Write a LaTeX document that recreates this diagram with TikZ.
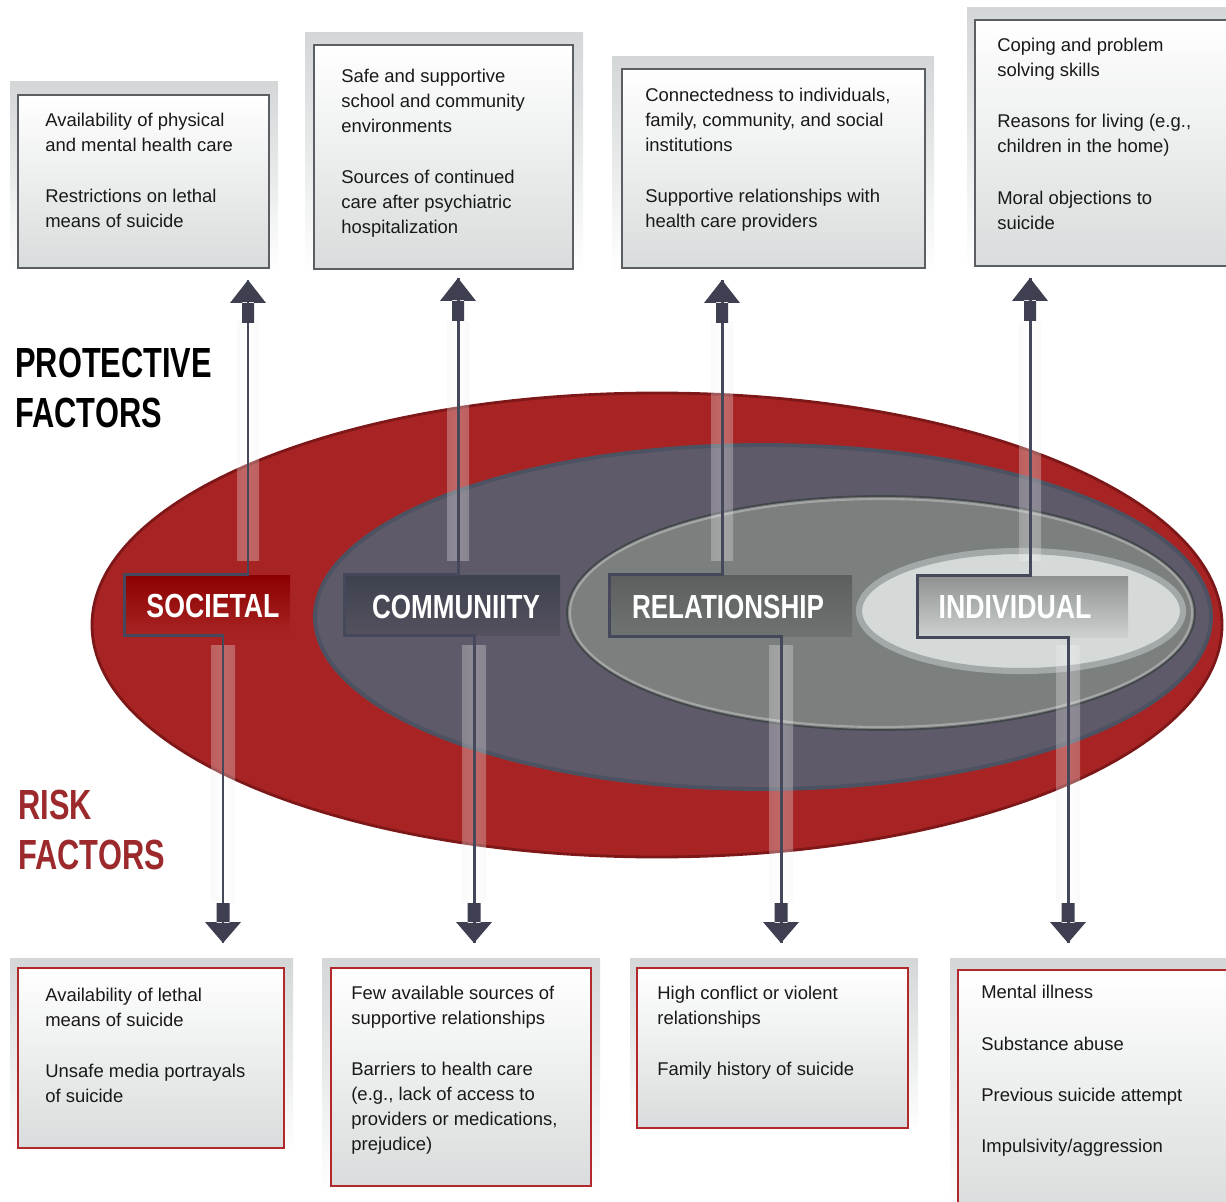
\documentclass[tikz,border=0pt]{standalone}
\usepackage{fontspec}
\setmainfont{Liberation Sans}
\usetikzlibrary{fit}

\definecolor{ringred}{HTML}{A82424}
\definecolor{ringredline}{HTML}{7E1718}
\definecolor{ringcom}{HTML}{5E5A69}
\definecolor{ringcomline}{HTML}{4C5262}
\definecolor{ringrel}{HTML}{7B7F7E}
\definecolor{ringrelline}{HTML}{41474A}
\definecolor{ringind}{HTML}{D5DAD9}
\definecolor{ringindline}{HTML}{A3A8A8}
\definecolor{linecol}{HTML}{45475A}
\definecolor{headcol}{HTML}{3E3F50}
\definecolor{protline}{HTML}{5B5E63}
\definecolor{riskline}{HTML}{B2282C}
\definecolor{riskred}{HTML}{9C2A2D}
\definecolor{boxgray}{HTML}{D9DCDC}
\definecolor{framegray}{HTML}{D3D7D7}

\newcommand{\condensed}[2][0.75]{\scalebox{#1}[1]{#2}}

\begin{document}
\begin{tikzpicture}[x=0.02cm, y=-0.02cm,
    factor/.style={font=\fontsize{10.5}{14.2}\selectfont, text=black!90, anchor=north west, align=left, inner sep=0pt},
    level/.style={font=\fontsize{19}{22}\selectfont\bfseries, text=white, inner sep=0pt},
    heading/.style={font=\fontsize{24}{28.4}\selectfont\bfseries, anchor=north west, align=left, inner sep=0pt},
    conn/.style={draw=linecol, line width=1.7pt},
    pbox/.style={draw=protline, line width=0.9pt, top color=white, bottom color=boxgray, inner sep=0pt},
    rbox/.style={draw=riskline, line width=0.9pt, top color=white, bottom color=boxgray, inner sep=0pt},
    frame/.style={top color=framegray, bottom color=white},
    glow/.style={left color=gray!15, right color=gray!15, middle color=white, opacity=.3},
    headup/.pic={\fill[headcol] (-6,43) rectangle (6,22) (-18,23) -- (18,23) -- (0,0) -- cycle;},
    headdown/.pic={\fill[headcol] (-6.5,-40) rectangle (6.5,-20) (-18,-21) -- (18,-21) -- (0,0) -- cycle;}]

\useasboundingbox (0,0) rectangle (1226,1202);

% nested levels
\draw[fill=ringred, draw=ringredline, line width=1.6pt] (657,625) ellipse [x radius=565, y radius=232];
\draw[fill=ringcom, draw=ringcomline, line width=2.2pt] (763,617) ellipse [x radius=448, y radius=172];
\draw[fill=ringrel, draw=ringrelline, line width=1pt] (881,613) ellipse [x radius=314, y radius=117];
\draw[draw=ringrel!70!white, line width=1.2pt] (881,613) ellipse [x radius=311, y radius=114];
\draw[fill=ringind, draw=ringindline, line width=3.5pt] (1021,611) ellipse [x radius=162, y radius=60];

% light bands along the arrows
\foreach \xu/\xd in {248/223, 458/474, 722/781, 1030/1068}{
  \shade[glow] (\xu-11,322) rectangle (\xu+11,560);
  \shade[glow] (\xd-12,645) rectangle (\xd+12,902);
}

% level labels
\node[fit={(125,575) (290,635)}, inner sep=0pt, top color=red!55!black, bottom color=ringred] (soc) {};
\node[fit={(345,575) (560,635)}, inner sep=0pt, top color=ringcomline!80!black, bottom color=ringcom!90!black] (com) {};
\node[fit={(610,575) (852,636)}, inner sep=0pt, top color=ringrel!75!black, bottom color=ringrel!90!black] (rel) {};
\node[fit={(918,576) (1128,637)}, inner sep=0pt, top color=ringrel!85, bottom color=ringind!90!gray] (ind) {};

\node[level] at (213,606) {\condensed[0.8]{SOCIETAL}};
\node[level] at (456,607) {\condensed[0.78]{COMMUNIITY}};
\node[level] at (728,607) {\condensed[0.78]{RELATIONSHIP}};
\node[level] at (1015,607) {\condensed[0.8]{INDIVIDUAL}};

% connectors
\coordinate (up1) at (248,280);  \coordinate (dn1) at (223,943);
\coordinate (up2) at (458,278);  \coordinate (dn2) at (474,943);
\coordinate (up3) at (722,280);  \coordinate (dn3) at (781,943);
\coordinate (up4) at (1030,278); \coordinate (dn4) at (1068,943);

\foreach \n/\lv in {1/soc, 2/com, 3/rel, 4/ind}{
  \draw[conn] (up\n) |- (\lv.north west) -- (\lv.south west) -| (dn\n);
  \pic at (up\n) {headup};
  \pic at (dn\n) {headdown};
}

% headings
\node[heading] (prot) at (15,348) {\condensed[0.73]{PROTECTIVE}\\\condensed[0.73]{FACTORS}};
\node[heading, text=riskred] (risk) at (18,790) {\condensed[0.73]{RISK}\\\condensed[0.73]{FACTORS}};

% protective factors
\fill[frame] (10,82) rectangle (278,273);
\fill[frame] (305,33) rectangle (583,273);
\fill[frame] (612,57) rectangle (934,273);
\fill[frame] (967,8) rectangle (1226,273);
\node[pbox, fit={(18,95) (269,268)}] (soc-p) {};
\node[pbox, fit={(314,45) (573,269)}] (com-p) {};
\node[pbox, fit={(622,69) (925,268)}] (rel-p) {};
\node[pbox, fit={(975,20) (1240,266)}] (ind-p) {};

\node[factor] at (45,113) {Availability of physical\\and mental health care\\[15pt]Restrictions on lethal\\means of suicide};
\node[factor] at (341,69) {Safe and supportive\\school and community\\environments\\[15pt]Sources of continued\\care after psychiatric\\hospitalization};
\node[factor] at (645,88) {Connectedness to individuals,\\family, community, and social\\institutions\\[15pt]Supportive relationships with\\health care providers};
\node[factor] at (997,38) {Coping and problem\\solving skills\\[15pt]Reasons for living (e.g.,\\children in the home)\\[15pt]Moral objections to\\suicide};

% risk factors
\fill[frame] (10,958) rectangle (293,1152);
\fill[frame] (322,958) rectangle (600,1194);
\fill[frame] (630,958) rectangle (918,1132);
\fill[frame] (950,958) rectangle (1226,1202);
\node[rbox, fit={(18,968) (284,1148)}] (soc-r) {};
\node[rbox, fit={(331,968) (591,1186)}] (com-r) {};
\node[rbox, fit={(637,968) (908,1128)}] (rel-r) {};
\node[rbox, fit={(958,970) (1240,1215)}] (ind-r) {};

\node[factor] at (45,988) {Availability of lethal\\means of suicide\\[15pt]Unsafe media portrayals\\of suicide};
\node[factor] at (351,986) {Few available sources of\\supportive relationships\\[15pt]Barriers to health care\\(e.g., lack of access to\\providers or medications,\\prejudice)};
\node[factor] at (657,986) {High conflict or violent\\relationships\\[15pt]Family history of suicide};
\node[factor] at (981,985) {Mental illness\\[15pt]Substance abuse\\[15pt]Previous suicide attempt\\[15pt]Impulsivity/aggression};

\end{tikzpicture}
\end{document}
